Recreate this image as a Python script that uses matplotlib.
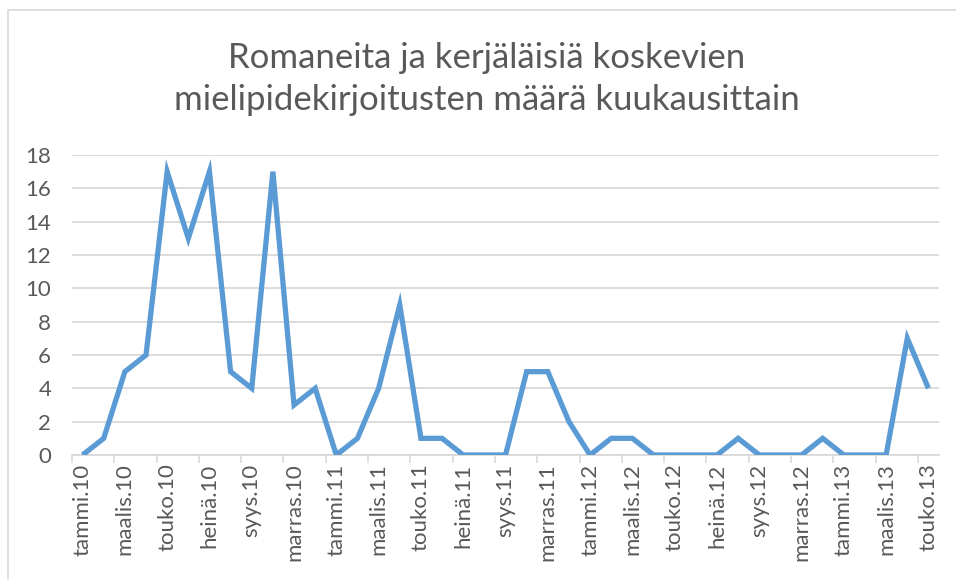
import matplotlib.pyplot as plt
import numpy as np
from matplotlib.patches import Rectangle

plt.rcParams['font.family'] = ['Lato', 'DejaVu Sans']

months = ['tammi', 'helmi', 'maalis', 'huhti', 'touko', 'kesä',
          'heinä', 'elo', 'syys', 'loka', 'marras', 'joulu']
years = ['10', '11', '12', '13']
labels = [m + '.' + y for y in years for m in months][:41]

counts = [0, 1, 5, 6, 17, 13, 17, 5, 4, 17, 3, 4,
          0, 1, 4, 9, 1, 1, 0, 0, 0, 5, 5, 2,
          0, 1, 1, 0, 0, 0, 0, 1, 0, 0, 0, 1,
          0, 0, 0, 7, 4]

title = 'Romaneita ja kerjäläisiä koskevien\nmielipidekirjoitusten määrä kuukausittain'

grey = '#595959'
grid_col = '#d9d9d9'

fig = plt.figure(figsize=(9.56, 5.8), dpi=100)
# chart border (cropped on right and bottom)
fig.patches.append(Rectangle((8 / 956, -0.05), 1.1, 1 - 10 / 580 + 0.05,
                             transform=fig.transFigure, fill=False,
                             edgecolor=grid_col, linewidth=1.2))

ax = fig.add_axes([72 / 956, 1 - 455 / 580, (939 - 72) / 956, 300 / 580])
x = np.arange(len(counts))
ax.plot(x, counts, color='#5B9BD5', linewidth=3.8, solid_joinstyle='miter',
        solid_capstyle='butt', zorder=3)

ax.set_xlim(-0.5, len(counts) - 0.5)
ax.set_ylim(0, 18)
ax.set_yticks(range(0, 19, 2))
ax.yaxis.grid(True, color=grid_col, linewidth=1.3)
ax.set_axisbelow(True)

ax.set_xticks(x[::2])
ax.set_xticklabels(labels[::2], rotation=90)
ax.set_xticks(np.arange(-0.5, len(counts), 2), minor=True)
ax.tick_params(axis='x', which='major', length=0, pad=6, labelsize=16, colors=grey)
ax.tick_params(axis='x', which='minor', length=6, color=grid_col, width=1.2)
ax.tick_params(axis='y', length=0, pad=15, labelsize=16, colors=grey)

for s in ['top', 'right', 'left']:
    ax.spines[s].set_visible(False)
ax.spines['bottom'].set_color(grid_col)
ax.spines['bottom'].set_linewidth(1.3)

fig.text(487 / 956, 1 - 79 / 580, title, ha='center', va='center',
         fontsize=25, color=grey, linespacing=1.4)

fig.savefig('out.png', dpi=100)
